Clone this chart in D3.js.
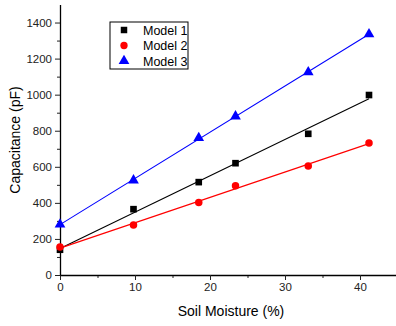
<!DOCTYPE html>
<html>
<head>
<meta charset="utf-8">
<script src="https://cdn.jsdelivr.net/npm/d3@7"></script>
<style>
  body { margin: 0; background: #fff; }
  svg { display: block; font-family: "Liberation Sans", Arial, sans-serif; }
</style>
</head>
<body>
<div id="chart"></div>
<script>
const moisture = [0, 9.8, 18.5, 23.4, 33.1, 41.2];
const model1 = [140, 365, 515, 620, 783, 998];
const model2 = [155, 277, 402, 495, 605, 732];
const model3 = [280, 525, 760, 880, 1125, 1335];
const seriesNames = ["Model 1", "Model 2", "Model 3"];
const xTicks = [0, 10, 20, 30, 40];
const yTicks = [0, 200, 400, 600, 800, 1000, 1200, 1400];

const width = 396;
const height = 326;

const svg = d3
  .select("#chart")
  .append("svg")
  .attr("width", width)
  .attr("height", height);

const x = d3.scaleLinear().domain([0, 44.8]).range([60, 396]);
const y = d3.scaleLinear().domain([0, 1500]).range([275, 4.5]);

// minor ticks first, then major ones on top
svg
  .append("g")
  .attr("transform", "translate(0,275)")
  .call(d3.axisBottom(x).tickValues(d3.range(5, 45, 10)).tickSize(3).tickFormat(""))
  .call((g) => g.select(".domain").remove());

svg
  .append("g")
  .attr("transform", "translate(60,0)")
  .call(d3.axisLeft(y).tickValues(d3.range(100, 1500, 200)).tickSize(3).tickFormat(""))
  .call((g) => g.select(".domain").remove());

const xAxis = svg
  .append("g")
  .attr("transform", "translate(0,275)")
  .call(
    d3.axisBottom(x).tickValues(xTicks).tickFormat(d3.format("d"))
      .tickSize(5).tickSizeOuter(0).tickPadding(3)
  );

const yAxis = svg
  .append("g")
  .attr("transform", "translate(60,0)")
  .call(
    d3.axisLeft(y).tickValues(yTicks).tickFormat(d3.format("d"))
      .tickSize(5).tickSizeOuter(0).tickPadding(3)
  );

[xAxis, yAxis].forEach((g) => {
  g.selectAll("text").attr("font-size", 11.5).attr("fill", "#222");
  g.select(".domain").attr("stroke-width", 1.3);
});

svg.selectAll(".tick line").attr("stroke", "#222");

svg
  .append("text")
  .attr("x", 231)
  .attr("y", 316)
  .attr("text-anchor", "middle")
  .attr("font-size", 14)
  .text("Soil Moisture (%)");

svg
  .append("text")
  .attr("transform", "rotate(-90)")
  .attr("x", -140)
  .attr("y", 20)
  .attr("text-anchor", "middle")
  .attr("font-size", 14)
  .text("Capacitance (pF)");

const series = [
  { name: seriesNames[0], values: model1, color: "#000", symbol: d3.symbolSquare },
  { name: seriesNames[1], values: model2, color: "#ff0000", symbol: d3.symbolCircle },
  { name: seriesNames[2], values: model3, color: "#0000ff", symbol: d3.symbolTriangle }
];

// least-squares fit for each series
function fit(xs, ys) {
  const mx = d3.mean(xs);
  const my = d3.mean(ys);
  const slope =
    d3.sum(xs, (v, i) => (v - mx) * (ys[i] - my)) / d3.sum(xs, (v) => (v - mx) ** 2);
  return { slope, intercept: my - slope * mx };
}

series.forEach((s) => {
  const f = fit(moisture, s.values);
  const ends = [0, d3.max(moisture)];
  svg
    .append("line")
    .attr("x1", x(ends[0]))
    .attr("y1", y(f.intercept + f.slope * ends[0]))
    .attr("x2", x(ends[1]))
    .attr("y2", y(f.intercept + f.slope * ends[1]))
    .attr("stroke", s.color)
    .attr("stroke-width", 1.1);
});

series.forEach((s) => {
  svg
    .append("g")
    .selectAll("path")
    .data(s.values)
    .join("path")
    .attr("transform", (d, i) => `translate(${x(moisture[i])},${y(d)})`)
    .attr("d", d3.symbol().type(s.symbol).size(s.symbol === d3.symbolTriangle ? 50 : 44))
    .attr("fill", s.color);
});

// legend
const legend = svg.append("g").attr("transform", "translate(110,22)");
legend
  .append("rect")
  .attr("width", 78)
  .attr("height", 47)
  .attr("fill", "#fff")
  .attr("stroke", "#000")
  .attr("stroke-width", 1);

series.forEach((s, i) => {
  const row = legend.append("g").attr("transform", `translate(0,${8 + i * 15.5})`);
  row
    .append("path")
    .attr("transform", "translate(14,0)")
    .attr("d", d3.symbol().type(s.symbol).size(s.symbol === d3.symbolTriangle ? 50 : 42))
    .attr("fill", s.color);
  row
    .append("text")
    .attr("x", 33)
    .attr("y", 4.5)
    .attr("font-size", 12.5)
    .text(s.name);
});
</script>
</body>
</html>
